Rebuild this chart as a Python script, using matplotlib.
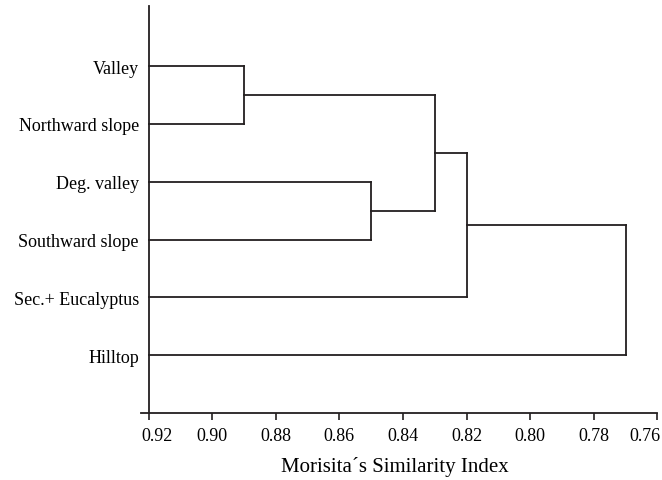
import matplotlib
matplotlib.use("Agg")
from matplotlib import pyplot as plt
from matplotlib.transforms import ScaledTranslation

plt.rcParams['font.family'] = 'serif'
plt.rcParams['font.serif'] = ['Liberation Serif', 'DejaVu Serif']

# data
leaves = ["Valley", "Northward slope", "Deg. valley", "Southward slope",
          "Sec.+ Eucalyptus", "Hilltop"]
# linkage: node ids >= len(leaves) refer to earlier merges
merge_a = [0, 2, 6, 8, 9]
merge_b = [1, 3, 7, 4, 5]
merge_sim = [0.89, 0.85, 0.83, 0.82, 0.77]
xticks = [0.92, 0.90, 0.88, 0.86, 0.84, 0.82, 0.80, 0.78, 0.76]
base = 0.92

fig = plt.figure(figsize=(6.62, 4.81), dpi=100)
ax = fig.add_axes([0.213, 0.1393, 0.7802, 0.8461])

n = len(leaves)
node_x = [base] * n
node_y = [n - i for i in range(n)]
lc = "#231f20"
lw = 1.3
for a, b, h in zip(merge_a, merge_b, merge_sim):
    ax.plot([node_x[a], h], [node_y[a], node_y[a]], color=lc, lw=lw, solid_capstyle='projecting')
    ax.plot([node_x[b], h], [node_y[b], node_y[b]], color=lc, lw=lw, solid_capstyle='projecting')
    ax.plot([h, h], [node_y[a], node_y[b]], color=lc, lw=lw, solid_capstyle='projecting')
    node_x.append(h)
    node_y.append((node_y[a] + node_y[b]) / 2)

ax.set_xlim(0.92236, 0.76)
ax.set_ylim(0.0, 7.04)
ax.set_xticks(xticks)
ax.set_xticklabels(["%.2f" % t for t in xticks], family='serif')
ax.set_yticks(node_y[:n])
ax.set_yticklabels(leaves, family='serif')
ax.tick_params(axis='y', length=0, pad=7, labelsize=13)
ax.tick_params(axis='x', length=5, width=1.2, color=lc, pad=5, direction='out', labelsize=13)
ax.spines['top'].set_visible(False)
ax.spines['right'].set_visible(False)
ax.spines['left'].set_position(('data', base))
for s in ('left', 'bottom'):
    ax.spines[s].set_linewidth(1.3)
    ax.spines[s].set_color(lc)

# end labels nudged inward as in the original print
labs = ax.get_xticklabels()
labs[0].set_transform(labs[0].get_transform() + ScaledTranslation(8 / 100, 0, fig.dpi_scale_trans))
labs[-1].set_transform(labs[-1].get_transform() + ScaledTranslation(-13 / 100, 0, fig.dpi_scale_trans))

ax.set_xlabel("Morisita\u00b4s Similarity Index", fontsize=15, family='serif')
ax.xaxis.set_label_coords(0.492, -0.105)

fig.savefig("out.png", dpi=100)
